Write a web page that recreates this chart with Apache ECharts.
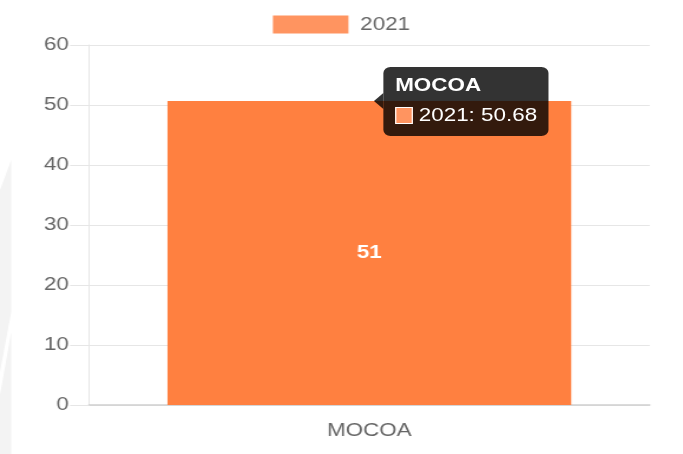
<!DOCTYPE html>
<html>
<head>
<meta charset="utf-8">
<script src="https://cdn.jsdelivr.net/npm/echarts@6/dist/echarts.min.js"></script>
<style>
  html, body { margin: 0; padding: 0; background: #fff; overflow: hidden; }
  #wrap { width: 683px; height: 454px; overflow: hidden; position: relative; }
  #chart { width: 579px; height: 454px; transform-origin: 0 0; transform: scaleX(1.17962); }
</style>
</head>
<body>
<div id="wrap"><div id="chart"></div></div>
<script>
const categories = ['MOCOA'];
const seriesName = '2021';
const values2021 = [50.68];
const yTicks = { min: 0, max: 60, interval: 10 };

const FONT = '"Liberation Sans", Arial, Helvetica, sans-serif';
const FS = 19;
const barColor = '#ff8040';
const legendColor = '#ff9460';

const chart = echarts.init(document.getElementById('chart'), null, { renderer: 'canvas' });

const option = {
  animation: false,
  textStyle: { fontFamily: FONT },
  graphic: [
    { type: 'polygon', silent: true, z: -10,
      shape: { points: [[0, 190], [9.5, 160], [9.5, 312], [0, 372]] },
      style: { fill: '#f3f3f3' } },
    { type: 'polygon', silent: true, z: -10,
      shape: { points: [[0, 395], [9.5, 332], [9.5, 454], [0, 454]] },
      style: { fill: '#f3f3f3' } }
  ],
  legend: {
    top: 10,
    left: 'center',
    icon: 'rect',
    itemWidth: 64,
    itemHeight: 18,
    data: [{ name: seriesName, itemStyle: { color: legendColor } }],
    textStyle: { color: '#666', fontSize: FS, fontFamily: FONT, padding: [0, 0, 0, 5] },
    selectedMode: false
  },
  grid: { left: 75.4, right: 28.2, top: 45, bottom: 49, containLabel: false },
  tooltip: {
    trigger: 'item',
    triggerOn: 'none',
    alwaysShowContent: true,
    transitionDuration: 0,
    backgroundColor: 'rgba(0,0,0,0.8)',
    borderWidth: 0,
    borderRadius: 6,
    padding: [7, 10, 8, 10],
    extraCssText: 'box-shadow:none;overflow:visible;',
    textStyle: { color: '#fff', fontSize: FS, fontFamily: FONT },
    position: function (point, params) {
      const p = chart.convertToPixel({ seriesIndex: 0 }, [params.dataIndex, params.value]);
      return [p[0] + 12, p[1] - 34];
    },
    formatter: function (params) {
      const ff = FONT.replace(/"/g, "'");
      return '<div style="position:absolute;left:-8px;top:26px;width:0;height:0;' +
        'border-top:8px solid transparent;border-bottom:8px solid transparent;' +
        'border-right:8px solid rgba(0,0,0,0.8);"></div>' +
        '<div style="font-weight:bold;font-size:' + FS + 'px;line-height:22px;color:#fff;font-family:' + ff + '">' + params.name + '</div>' +
        '<div style="margin-top:6px;line-height:26px;font-size:' + FS + 'px;color:#fff;white-space:nowrap;font-family:' + ff + '">' +
        '<span style="display:inline-block;width:15px;height:17px;background:' + legendColor + ';border:1px solid #fff;vertical-align:-3px;margin-right:5px;box-sizing:border-box;"></span>' +
        params.seriesName + ': ' + params.value + '</div>';
    }
  },
  xAxis: {
    type: 'category',
    data: categories,
    axisLine: { show: true, lineStyle: { color: '#d0d0d0', width: 1.5 } },
    axisTick: { show: false },
    axisLabel: { color: '#666', fontSize: FS, margin: 16, fontFamily: FONT },
    splitLine: { show: false }
  },
  yAxis: {
    type: 'value',
    min: yTicks.min,
    max: yTicks.max,
    interval: yTicks.interval,
    axisLine: { show: true, lineStyle: { color: '#e6e6e6', width: 1 } },
    axisTick: { show: true, length: 16, lineStyle: { color: '#e6e6e6' } },
    axisLabel: { color: '#666', fontSize: FS, margin: 17, fontFamily: FONT },
    splitLine: { show: true, lineStyle: { color: '#e6e6e6', width: 1 } }
  },
  series: [{
    name: seriesName,
    type: 'bar',
    data: values2021,
    barWidth: '72%',
    itemStyle: { color: barColor },
    label: {
      show: true,
      position: 'inside',
      color: '#fff',
      fontWeight: 'bold',
      fontSize: FS,
      fontFamily: FONT,
      formatter: function (p) { return Math.round(p.value); }
    }
  }]
};

chart.setOption(option);
chart.dispatchAction({ type: 'showTip', seriesIndex: 0, dataIndex: 0 });
</script>
</body>
</html>
